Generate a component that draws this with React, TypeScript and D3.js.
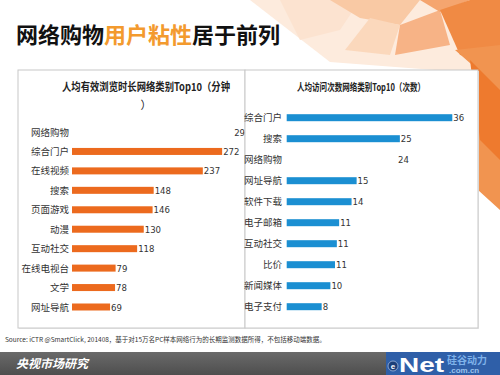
import React from "react";
import * as d3 from "d3";

const titleParts = [
  { text: "网络购物", color: "#111111" },
  { text: "用户粘性", color: "#F39A2E" },
  { text: "居于前列", color: "#111111" },
];

const leftTitle1 = "人均有效浏览时长网络类别Top10（分钟";
const leftTitle2 = "）";
const leftCats = ["网络购物", "综合门户", "在线视频", "搜索", "页面游戏", "动漫", "互动社交", "在线电视台", "文学", "网址导航"];
const leftVals = [292, 272, 237, 148, 146, 130, 118, 79, 78, 69];

const rightTitle = "人均访问次数网络类别Top10（次数）";
const rightCats = ["综合门户", "搜索", "网络购物", "网址导航", "软件下载", "电子邮箱", "互动社交", "比价", "新闻媒体", "电子支付"];
const rightVals = [36, 24.6, 24, 15.2, 14.1, 11.4, 10.9, 10.5, 9.5, 7.6];

const hiddenCat = "网络购物";
const sourceText = "Source:  iCTR @SmartClick, 201408，基于对15万名PC样本网络行为的长期监测数据所得，不包括移动端数据。";
const footerText = "央视市场研究";

const CJK = "'Noto Sans CJK SC', 'Noto Sans', sans-serif";
const NUM = "'Liberation Sans Narrow', 'DejaVu Sans Condensed', 'Liberation Sans', sans-serif";

export default function App() {
  const W = 500, H = 375;
  const xL = d3.scaleLinear().domain([0, 300]).range([72, 72 + 300 * 0.552]);
  const yL = d3.scalePoint<string>().domain(leftCats).range([132, 307]);
  const xR = d3.scaleLinear().domain([0, 40]).range([286.7, 286.7 + 40 * 4.6]);
  const yR = d3.scalePoint<string>().domain(rightCats).range([117.7, 306.7]);
  const barH = 7;
  const fmt = (v: number) => String(Math.round(v));

  return (
    <svg width={W} height={H} style={{ position: "absolute", left: 0, top: 0, display: "block" }}>
      <defs>
        <clipPath id="clipL"><rect x={18} y={70} width={226.5} height={258} /></clipPath>
        <linearGradient id="footG" x1="0" y1="0" x2="0" y2="1">
          <stop offset="0" stopColor="#6a6a6a" />
          <stop offset="1" stopColor="#4e4e4e" />
        </linearGradient>
      </defs>
      <rect x={0} y={0} width={W} height={H} fill="#ffffff" />
      {/* decorative orange facets top-right */}
      <g>
        <polygon points="250,0 500,0 500,75 330,62" fill="#FDEBDD" />
        <polygon points="280,0 360,0 340,30 300,40" fill="#FCE3D0" />
        <polygon points="330,0 420,0 400,25 360,18" fill="#F9C9A4" />
        <polygon points="370,18 400,25 390,55 345,50" fill="#FBD8BC" />
        <polygon points="400,25 440,10 450,45 395,55" fill="#F7B386" />
        <polygon points="420,0 470,0 440,12" fill="#F5A56F" />
        <polygon points="440,10 470,0 500,0 500,60 460,55" fill="#F08A44" />
        <polygon points="455,50 500,45 500,210 478,190 478,70" fill="#F19450" />
        <polygon points="470,60 500,90 500,160 480,140" fill="#EE7A2E" />
      </g>
      {/* title */}
      <text x={16} y={43} fontSize={22} fontWeight={700} fontFamily={CJK}>
        {titleParts.map((p, i) => (
          <tspan key={i} fill={p.color}>{p.text}</tspan>
        ))}
      </text>
      {/* panels */}
      <rect x={19} y={71} width={460} height={258} fill="#e8e8e8" />
      <rect x={18} y={70} width={227} height={258} fill="#ffffff" stroke="#c8c8c8" strokeWidth={1} />
      <rect x={245} y={70} width={233} height={258} fill="#ffffff" stroke="#c8c8c8" strokeWidth={1} />

      {/* left chart */}
      <text x={146} y={91} textAnchor="middle" fontSize={11} fontWeight={700} fill="#222" fontFamily={CJK}
        textLength={168} lengthAdjust="spacingAndGlyphs">{leftTitle1}</text>
      <text x={146} y={109} textAnchor="middle" fontSize={11} fill="#222" fontFamily={CJK}>{leftTitle2}</text>
      <g clipPath="url(#clipL)">
        {leftCats.map((c, i) => {
          const cy = yL(c)!;
          const hidden = c === hiddenCat;
          return (
            <g key={c}>
              <text x={69} y={cy + 3.5} textAnchor="end" fontSize={9.5} fill="#333" fontFamily={CJK}>{c}</text>
              {!hidden && (
                <rect x={xL(0)} y={cy - barH / 2} width={xL(leftVals[i]) - xL(0)} height={barH} fill="#EC6A1E" />
              )}
              <text x={xL(leftVals[i]) + 1} y={cy + 3.5} fontSize={9.5} fill="#333" fontFamily={NUM}>{fmt(leftVals[i])}</text>
            </g>
          );
        })}
      </g>

      {/* right chart */}
      <text x={361} y={91} textAnchor="middle" fontSize={10.5} fontWeight={700} fill="#222" fontFamily={CJK}
        textLength={128} lengthAdjust="spacingAndGlyphs">{rightTitle}</text>
      {rightCats.map((c, i) => {
        const cy = yR(c)!;
        const hidden = c === hiddenCat;
        return (
          <g key={c}>
            <text x={282} y={cy + 3.5} textAnchor="end" fontSize={9.5} fill="#333" fontFamily={CJK}>{c}</text>
            {!hidden && (
              <rect x={xR(0)} y={cy - barH / 2} width={xR(rightVals[i]) - xR(0)} height={barH} fill="#1B8FD2" />
            )}
            <text x={xR(rightVals[i]) + 1} y={cy + 3.5} fontSize={9.5} fill="#333" fontFamily={NUM}>{fmt(rightVals[i])}</text>
          </g>
        );
      })}

      {/* source */}
      <text x={5} y={342} fontSize={6.5} fill="#333" fontFamily={CJK}>{sourceText}</text>

      {/* footer */}
      <rect x={0} y={352} width={W} height={23} fill="url(#footG)" />
      <text x={16} y={368} fontSize={12} fontStyle="italic" fontWeight={700} fill="#ffffff" fontFamily={CJK}>{footerText}</text>
      <g>
        <rect x={386} y={352} width={114} height={23} fill="#2F5FA8" />
        <circle cx={393} cy={366} r={5} fill="#1d3f78" stroke="#9fb7dd" strokeWidth={0.8} />
        <text x={393} y={369} textAnchor="middle" fontSize={8} fontWeight={700} fill="#ffffff" fontFamily="'Liberation Sans', sans-serif">e</text>
        <text x={399} y={372} fontSize={20} fontWeight={900} fill="#ffffff" fontFamily="'Liberation Sans', Arial, sans-serif"
          textLength={45} lengthAdjust="spacingAndGlyphs">Net</text>
        <text x={447} y={364} fontSize={10} fontWeight={700} fill="#7fb2ea" fontFamily={CJK}>硅谷动力</text>
        <text x={449} y={373} fontSize={8} fontWeight={700} fill="#9cc3ee" fontFamily="'Liberation Sans', sans-serif">.com.cn</text>
      </g>
    </svg>
  );
}
